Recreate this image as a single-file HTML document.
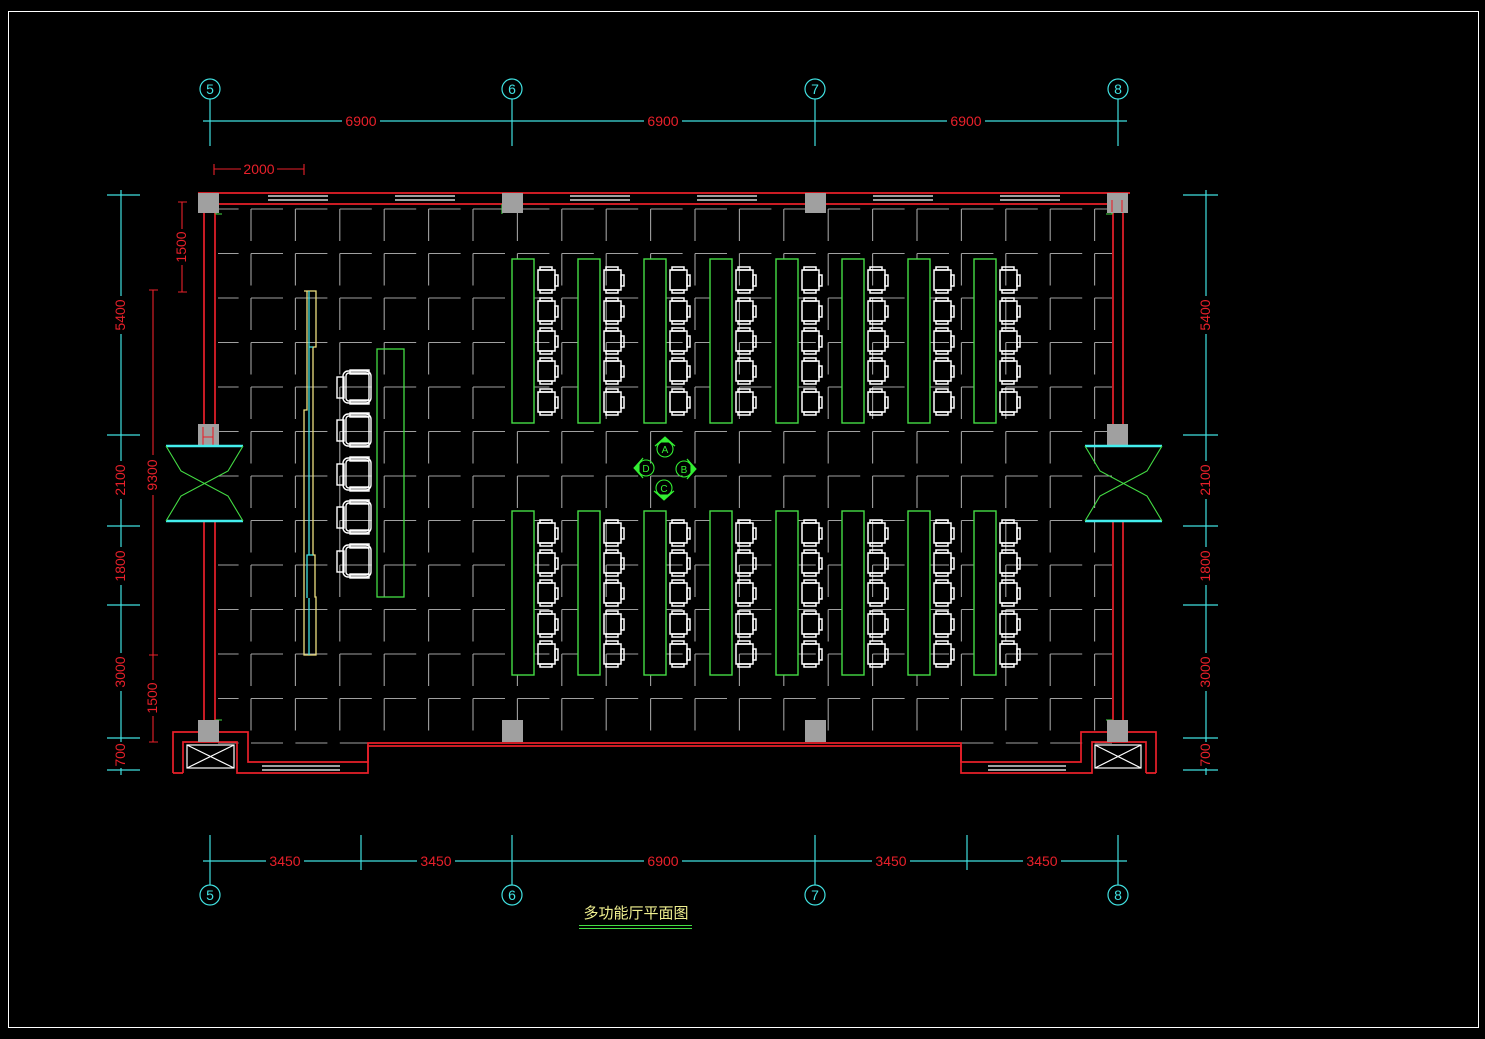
<!DOCTYPE html>
<html><head><meta charset="utf-8">
<style>
html,body{margin:0;padding:0;background:#000;}
svg{display:block;}
text{font-family:"Liberation Sans","Noto Sans CJK SC",sans-serif;}
</style></head>
<body>
<svg id="s" width="1485" height="1039" viewBox="0 0 1485 1039" xmlns="http://www.w3.org/2000/svg">
<defs>
<g id="ch" fill="none" stroke="#fff" stroke-width="1.5">
  <rect x="0" y="3" width="17" height="20"/>
  <rect x="2" y="0" width="12" height="3"/>
  <rect x="2" y="23" width="12" height="3"/>
  <rect x="17" y="8" width="3" height="11"/>
</g>
<g id="ac" fill="none" stroke="#fff" stroke-width="1.4">
  <rect x="6" y="1" width="28" height="32" rx="5"/>
  <rect x="9" y="3" width="23" height="28" rx="3"/>
  <rect x="0" y="7" width="7" height="21"/>
  <rect x="13" y="0" width="19" height="4"/>
  <rect x="13" y="30" width="19" height="4"/>
</g>
<g id="door" fill="none">
  <path d="M0,0 L77,0 M0,75 L77,75" stroke="#4ee" stroke-width="2.4"/>
  <path d="M0,0 L15,25 L62,50 L77,75 M77,0 L62,25 L15,50 L0,75" stroke="#4d4" stroke-width="1.1"/>
</g>
</defs>
<rect x="0" y="0" width="1485" height="1039" fill="#000"/>
<rect x="8.5" y="11.5" width="1470" height="1016" fill="none" stroke="#fff" stroke-width="1"/>

<g id="grid" stroke="#a0a0a0" stroke-width="1.1" fill="none"></g>

<g stroke="#40e0e0" stroke-width="1.2" fill="none">
  <line x1="203" y1="121" x2="1127" y2="121"/>
  <line x1="210" y1="99" x2="210" y2="146"/><line x1="512" y1="99" x2="512" y2="146"/>
  <line x1="815" y1="99" x2="815" y2="146"/><line x1="1118" y1="99" x2="1118" y2="146"/>
  <circle cx="210" cy="89" r="10"/><circle cx="512" cy="89" r="10"/><circle cx="815" cy="89" r="10"/><circle cx="1118" cy="89" r="10"/>
  <line x1="203" y1="861" x2="1127" y2="861"/>
  <line x1="210" y1="835" x2="210" y2="885"/><line x1="361" y1="835" x2="361" y2="870"/>
  <line x1="512" y1="835" x2="512" y2="885"/><line x1="815" y1="835" x2="815" y2="885"/>
  <line x1="967" y1="835" x2="967" y2="870"/><line x1="1118" y1="835" x2="1118" y2="885"/>
  <circle cx="210" cy="895" r="10"/><circle cx="512" cy="895" r="10"/><circle cx="815" cy="895" r="10"/><circle cx="1118" cy="895" r="10"/>
  <line x1="121" y1="190" x2="121" y2="775"/>
  <line x1="107" y1="195" x2="140" y2="195"/><line x1="107" y1="435" x2="140" y2="435"/>
  <line x1="107" y1="526" x2="140" y2="526"/><line x1="107" y1="605" x2="140" y2="605"/>
  <line x1="107" y1="738" x2="140" y2="738"/><line x1="107" y1="770" x2="140" y2="770"/>
  <line x1="1206" y1="190" x2="1206" y2="775"/>
  <line x1="1183" y1="195" x2="1218" y2="195"/><line x1="1183" y1="435" x2="1218" y2="435"/>
  <line x1="1183" y1="526" x2="1218" y2="526"/><line x1="1183" y1="605" x2="1218" y2="605"/>
  <line x1="1183" y1="738" x2="1218" y2="738"/><line x1="1183" y1="770" x2="1218" y2="770"/>
</g>
<g fill="#40e0e0" font-size="14" text-anchor="middle">
  <text x="210" y="94">5</text><text x="512" y="94">6</text><text x="815" y="94">7</text><text x="1118" y="94">8</text>
  <text x="210" y="900">5</text><text x="512" y="900">6</text><text x="815" y="900">7</text><text x="1118" y="900">8</text>
</g>
<g fill="#e8202a" font-size="14" text-anchor="middle">
  <rect x="342" y="114" width="38" height="14" fill="#000"/><text x="361" y="126">6900</text>
  <rect x="644" y="114" width="38" height="14" fill="#000"/><text x="663" y="126">6900</text>
  <rect x="947" y="114" width="38" height="14" fill="#000"/><text x="966" y="126">6900</text>
  <rect x="266" y="854" width="38" height="14" fill="#000"/><text x="285" y="866">3450</text>
  <rect x="417" y="854" width="38" height="14" fill="#000"/><text x="436" y="866">3450</text>
  <rect x="644" y="854" width="38" height="14" fill="#000"/><text x="663" y="866">6900</text>
  <rect x="872" y="854" width="38" height="14" fill="#000"/><text x="891" y="866">3450</text>
  <rect x="1023" y="854" width="38" height="14" fill="#000"/><text x="1042" y="866">3450</text>
  <text x="259" y="174">2000</text>
</g>
<g fill="#e8202a" font-size="14" text-anchor="middle">
  <rect x="114" y="296" width="14" height="38" fill="#000"/><text transform="translate(125,315) rotate(-90)">5400</text>
  <rect x="114" y="461" width="14" height="38" fill="#000"/><text transform="translate(125,480) rotate(-90)">2100</text>
  <rect x="114" y="547" width="14" height="38" fill="#000"/><text transform="translate(125,566) rotate(-90)">1800</text>
  <rect x="114" y="653" width="14" height="38" fill="#000"/><text transform="translate(125,672) rotate(-90)">3000</text>
  <rect x="114" y="742" width="14" height="26" fill="#000"/><text transform="translate(125,755) rotate(-90)">700</text>
  <rect x="1199" y="296" width="14" height="38" fill="#000"/><text transform="translate(1210,315) rotate(-90)">5400</text>
  <rect x="1199" y="461" width="14" height="38" fill="#000"/><text transform="translate(1210,480) rotate(-90)">2100</text>
  <rect x="1199" y="547" width="14" height="38" fill="#000"/><text transform="translate(1210,566) rotate(-90)">1800</text>
  <rect x="1199" y="653" width="14" height="38" fill="#000"/><text transform="translate(1210,672) rotate(-90)">3000</text>
  <rect x="1199" y="742" width="14" height="26" fill="#000"/><text transform="translate(1210,755) rotate(-90)">700</text>
  <rect x="146" y="456" width="14" height="38" fill="#000"/><text transform="translate(157,475) rotate(-90)">9300</text>
  <rect x="146" y="679" width="14" height="38" fill="#000"/><text transform="translate(157,698) rotate(-90)">1500</text>
  <rect x="175" y="228" width="14" height="38" fill="#000"/><text transform="translate(186,247) rotate(-90)">1500</text>
</g>
<g stroke="#e8202a" stroke-width="1.1" fill="none">
  <path d="M153,290 V455 M153,495 V680 M153,716 V742 M149,655 H158 M149,742 H158 M149,290 H158"/>
  <path d="M182,202 V229 M182,265 V292 M178,202 H187 M178,292 H187"/>
  <path d="M214,169 H241 M277,169 H304 M214,164 V175 M304,164 V175"/>
</g>

<g stroke="#e8202a" stroke-width="1.7" fill="none">
  <path d="M198,193 H1130 M204,204 H1124"/>
  <path d="M204,204 V435 M215,204 V435 M204,520 V732 M215,520 V732"/>
  <path d="M1113,204 V435 M1123,204 V435 M1113,520 V732 M1123,520 V732"/>
  <path d="M173,773 V732 H248 V762 H368 V743 H961 V762 H1081 V732 H1156 V773"/>
  <path d="M183,773 V742 H237 V773 H368 V746 H961 V773 H1092 V742 H1146 V773"/>
  <path d="M173,773 H183 M1146,773 H1156"/>
</g>
<g stroke="#fff" stroke-width="1.2" fill="none">
  <path d="M268,196 H328 M268,200 H328 M395,196 H455 M395,200 H455 M570,196 H630 M570,200 H630 M697,196 H757 M697,200 H757 M873,196 H933 M873,200 H933 M1000,196 H1060 M1000,200 H1060"/>
  <path d="M262,766 H340 M262,770 H340 M988,766 H1066 M988,770 H1066"/>
  <rect x="187" y="745" width="47" height="23"/><path d="M187,745 L234,768 M234,745 L187,768"/>
  <rect x="1095" y="745" width="46" height="23"/><path d="M1095,745 L1141,768 M1141,745 L1095,768"/>
</g>
<g stroke="#4d4" stroke-width="1.1" fill="none">
  <path d="M216,204 V214 H222 M502,204 V214 M1112,204 V214 H1106 M216,730 V720 H222 M1112,730 V720 H1106"/>
</g>
<g fill="#a0a0a0">
  <rect x="198" y="193" width="21" height="20"/><rect x="502" y="193" width="21" height="20"/>
  <rect x="805" y="193" width="21" height="20"/><rect x="1107" y="193" width="21" height="20"/>
  <rect x="198" y="424" width="21" height="21"/><rect x="1107" y="424" width="21" height="21"/>
  <rect x="198" y="720" width="21" height="22"/><rect x="502" y="720" width="21" height="22"/>
  <rect x="805" y="720" width="21" height="22"/><rect x="1107" y="720" width="21" height="22"/>
</g>
<g stroke="#e8202a" stroke-width="1.1" fill="none"><path d="M203,427 V445 M213,427 V445 M203,437 H213 M1112,200 V212 M1122,200 V212"/></g>
<use href="#door" x="166" y="446"/>
<use href="#door" x="1085" y="446"/>

<g fill="none" stroke-width="1.3">
  <path d="M304,291 H316 V347 H313 V555 H315 V597 H316 V655 H304 V410 H307 V291" stroke="#eee080"/>
  <path d="M309,291 V555 M309,347 H313 M309,598 V655 M313,555 H307 V598" stroke="#40e0e0"/>
  <rect x="377" y="349" width="27" height="248" stroke="#4d4"/>
</g>
<use href="#ac" x="337" y="370"/><use href="#ac" x="337" y="413"/><use href="#ac" x="337" y="457"/>
<use href="#ac" x="337" y="500"/><use href="#ac" x="337" y="544"/>

<g id="tables"></g>

<g stroke="#3e3" fill="#3e3" stroke-width="1.1">
  <circle cx="665" cy="449" r="8" fill="none"/><circle cx="684" cy="469" r="8" fill="none"/>
  <circle cx="664" cy="488" r="8" fill="none"/><circle cx="646" cy="468" r="8" fill="none"/>
  <path d="M655,446 L665,437 L675,446 L669,442 L661,442Z"/>
  <path d="M687,459 L696,469 L687,479 L691,473 L691,465Z"/>
  <path d="M654,491 L664,500 L674,491 L668,495 L660,495Z"/>
  <path d="M643,458 L634,468 L643,478 L639,472 L639,464Z"/>
</g>
<g fill="#3e3" font-size="10" text-anchor="middle">
  <text x="665" y="453">A</text><text x="684" y="473">B</text><text x="664" y="492">C</text><text x="646" y="472">D</text>
</g>

<text x="636" y="918" fill="#f0f090" font-size="15" text-anchor="middle" font-family="'Liberation Sans','Noto Sans CJK SC',sans-serif">多功能厅平面图</text>
<path d="M579,925.5 H692 M579,928.5 H692" stroke="#4d4" stroke-width="1.1"/>

<script>
var NS="http://www.w3.org/2000/svg";
function el(p,t,a){var e=document.createElementNS(NS,t);for(var k in a)e.setAttribute(k,a[k]);p.appendChild(e);return e;}
var g=document.getElementById("grid");
for(var x=251;x<1105;x+=44.4){el(g,"line",{x1:x,y1:209,x2:x,y2:742,"stroke-dasharray":"32 12.5"});}
for(var y=209;y<745;y+=44.5){el(g,"line",{x1:218,y1:y,x2:1112,y2:y,"stroke-dasharray":"32 12.4","stroke-dashoffset":"11.4"});}
var t=document.getElementById("tables");
var xs=[512,578,644,710,776,842,908,974];
xs.forEach(function(x){
  el(t,"rect",{x:x,y:259,width:22,height:164,fill:"#000",stroke:"#4d4","stroke-width":1.4});
  el(t,"rect",{x:x,y:511,width:22,height:164,fill:"#000",stroke:"#4d4","stroke-width":1.4});
  [267,298,328,358,389].forEach(function(y){el(t,"use",{href:"#ch",x:x+26,y:y});});
  [520,550,580,611,641].forEach(function(y){el(t,"use",{href:"#ch",x:x+26,y:y});});
});
</script>
</svg>
</body></html>
